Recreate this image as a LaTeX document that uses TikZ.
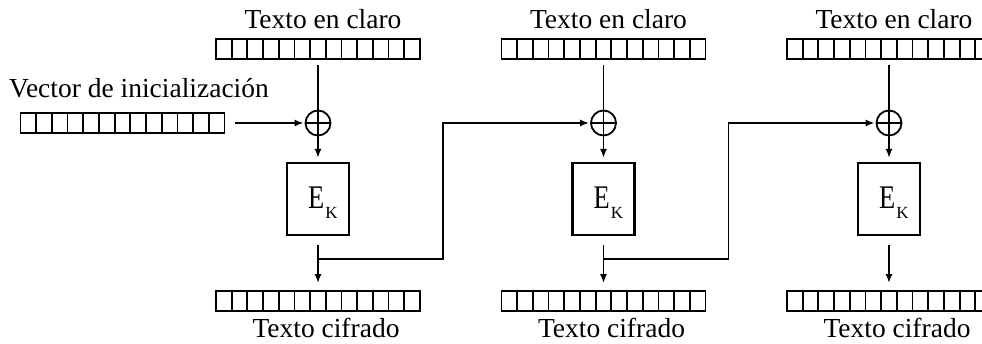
\documentclass[tikz,border=0pt]{standalone}
\usepackage{fontspec}
\setmainfont{Liberation Serif}
\usetikzlibrary{arrows.meta}
\begin{document}
\begin{tikzpicture}[x=1pt,y=-1pt,
  lbl/.style={font=\fontsize{27.5}{32}\selectfont, inner sep=0},
  register/.style={draw, line width=1.8pt, minimum width=204pt, minimum height=20pt, inner sep=0,
    path picture={\foreach \i in {1,...,12}
      \draw[line width=1.8pt] ([xshift=\i*15.69pt]path picture bounding box.south west)
        -- ([xshift=\i*15.69pt]path picture bounding box.north west);}},
  ekbox/.style={draw, line width=2.2pt, minimum width=62pt, minimum height=72pt, inner sep=0},
  xorop/.style={circle, draw, line width=1.8pt, minimum size=25pt, inner sep=0,
    path picture={\draw[line width=1.8pt]
      (path picture bounding box.north) -- (path picture bounding box.south)
      (path picture bounding box.west) -- (path picture bounding box.east);}},
  wire/.style={line width=1.8pt},
  flow/.style={wire, -{Latex[length=9pt,width=7pt]}}]

\clip (0,0) rectangle (982,343);

% initialisation vector
\node[lbl, anchor=base west] (ivl) at (9,97) {Vector de inicialización};
\node[register] (iv) at (122.5,123) {};

% one CBC stage per column
\foreach \c/\x in {1/318,2/603.5,3/889} {
  \node[lbl, anchor=base] (ptl\c) at (\x+5,28) {Texto en claro};
  \node[register] (pt\c) at (\x,49) {};
  \node[xorop] (x\c) at (\x,123) {};
  \node[ekbox] (enc\c) at (\x,199) {};
  \node[anchor=base west, inner sep=0] (ek\c) at (\x-10,208)
    {\fontsize{33}{34}\selectfont\scalebox{0.8}[1]{E}\kern1pt\raisebox{-10pt}{\fontsize{17}{18}\selectfont K}};
  \node[register] (ct\c) at (\x,301) {};
  \node[lbl, anchor=base] (ctl\c) at (\x+8,337) {Texto cifrado};
  \coordinate (tap\c) at (\x,259);
  \coordinate (turn\c) at (\x+125,259);

  \draw[wire, shorten <=5pt] (pt\c) -- (x\c);
  \draw[flow, shorten >=4pt] (x\c) -- (enc\c);
  \draw[flow, shorten <=9pt, shorten >=7pt] (enc\c) -- (ct\c);
}

% chaining of each ciphertext block into the next stage
\draw[flow, shorten <=10pt, shorten >=1pt] (iv) -- (x1);
\draw[flow, shorten >=1pt] (tap1) -- (turn1) |- (x2);
\draw[flow, shorten >=1pt] (tap2) -- (turn2) |- (x3);
\end{tikzpicture}
\end{document}
